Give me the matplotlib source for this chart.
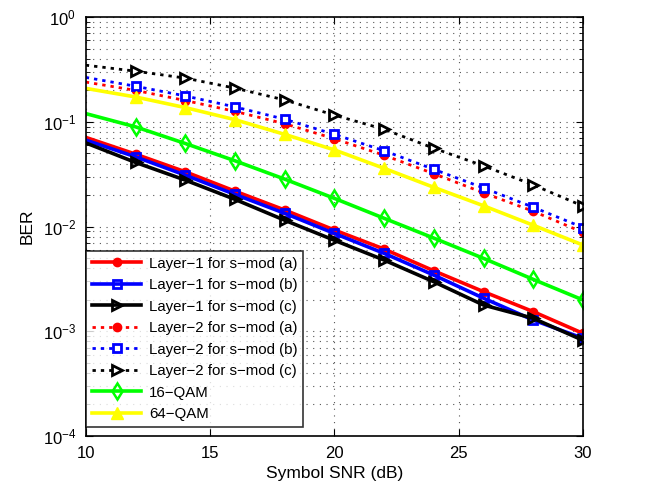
import numpy as np
import matplotlib
matplotlib.use('Agg')
import matplotlib.pyplot as plt

plt.rcParams['font.family'] = ['Liberation Sans', 'DejaVu Sans']
plt.rcParams['mathtext.fontset'] = 'custom'
plt.rcParams['mathtext.rm'] = 'Liberation Sans'

snr = [10, 12, 14, 16, 18, 20, 22, 24, 26, 28, 30]

# layer-1 curves
l1_a = [0.0711, 0.0492, 0.0334, 0.0218, 0.0144, 0.00927, 0.0061, 0.00378, 0.00239, 0.00154, 0.000955]
l1_b = [0.067, 0.0464, 0.031, 0.0203, 0.0134, 0.0086, 0.00555, 0.00344, 0.00207, 0.00128, 0.000857]
l1_c = [0.063, 0.041, 0.0278, 0.0182, 0.0115, 0.0074, 0.00479, 0.00297, 0.00178, 0.00133, 0.00082]

# layer-2 curves
l2_a = [0.24, 0.20, 0.160, 0.126, 0.096, 0.069, 0.048, 0.032, 0.021, 0.0140, 0.0088]
l2_b = [0.266, 0.219, 0.177, 0.139, 0.106, 0.076, 0.053, 0.0352, 0.0234, 0.0153, 0.0098]
l2_c = [0.348, 0.305, 0.262, 0.21, 0.162, 0.116, 0.085, 0.056, 0.038, 0.025, 0.0157]

qam16 = [0.120, 0.0897, 0.0622, 0.0425, 0.0284, 0.0186, 0.0120, 0.00776, 0.00497, 0.00313, 0.00199]
qam64 = [0.209, 0.173, 0.137, 0.105, 0.076, 0.054, 0.036, 0.0237, 0.0158, 0.0103, 0.00666]

labels = ['Layer\u22121 for s\u2212mod (a)', 'Layer\u22121 for s\u2212mod (b)', 'Layer\u22121 for s\u2212mod (c)',
          'Layer\u22122 for s\u2212mod (a)', 'Layer\u22122 for s\u2212mod (b)', 'Layer\u22122 for s\u2212mod (c)',
          '16\u2212QAM', '64\u2212QAM']

fig = plt.figure(figsize=(6.5, 4.91), dpi=100)
ax = fig.add_axes([0.132, 0.112, 0.765, 0.853])

me = slice(1, None)
dot = (0, (1.2, 1.8))
ax.semilogy(snr, l1_a, '-', color='red', lw=2.6, marker='o', ms=6, mfc='red', mec='red', markevery=me, label=labels[0])
ax.semilogy(snr, l1_b, '-', color='blue', lw=2.6, marker='s', ms=6, mfc='none', mec='blue', mew=2, markevery=me, label=labels[1])
ax.semilogy(snr, l1_c, '-', color='black', lw=2.6, marker='>', ms=7.5, mfc='none', mec='black', mew=2, markevery=me, label=labels[2])
ax.semilogy(snr, l2_a, ls=dot, color='red', lw=2, marker='o', ms=6, mfc='red', mec='red', markevery=me, label=labels[3])
ax.semilogy(snr, l2_b, ls=dot, color='blue', lw=2, marker='s', ms=6, mfc='white', mec='blue', mew=2, markevery=me, label=labels[4])
ax.semilogy(snr, l2_c, ls=dot, color='black', lw=2, marker='>', ms=7.5, mfc='white', mec='black', mew=2, markevery=me, label=labels[5])
ax.semilogy(snr, qam16, '-', color='#00ff00', lw=2.6, marker='d', ms=8, mfc='none', mec='#00ff00', mew=1.8, markevery=me, label=labels[6])
ax.semilogy(snr, qam64, '-', color='yellow', lw=2.6, marker='^', ms=8, mfc='yellow', mec='yellow', markevery=me, label=labels[7])

ax.set_xlim(10, 30)
ax.set_ylim(1e-4, 1)
ax.set_xticks([10, 15, 20, 25, 30])
ax.grid(True, which='major', axis='both', ls=(0, (1, 5)), color='#555555', lw=0.8)
ax.grid(True, which='minor', axis='y', ls=(0, (1, 5)), color='#555555', lw=0.8)
ax.tick_params(which='major', direction='in', top=True, right=True, labelsize=12, length=5, pad=7)
ax.tick_params(which='minor', direction='in', top=True, right=True, length=3)
for s in ax.spines.values():
    s.set_linewidth(1.2)

ax.set_xlabel('Symbol SNR (dB)', fontsize=12.5)
ax.set_ylabel('BER', fontsize=12.5, labelpad=6)

leg = ax.legend(loc='lower left', bbox_to_anchor=(0.0, 0.021), fontsize=10.8, frameon=True, fancybox=False,
                edgecolor='black', borderaxespad=0.0, handlelength=3.3, labelspacing=0.5, borderpad=0.4,
                handletextpad=0.5)
leg.get_frame().set_linewidth(1.2)

fig.savefig('out.png', dpi=100)
